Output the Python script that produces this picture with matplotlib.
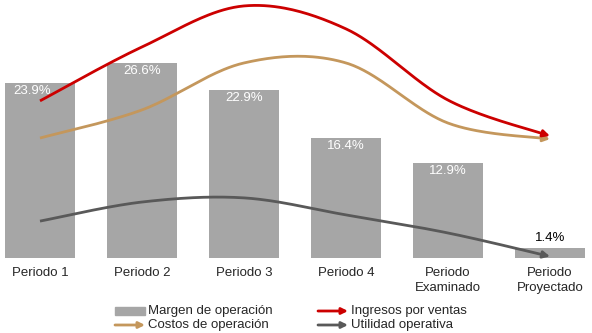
import numpy as np
import matplotlib
matplotlib.use("Agg")
import matplotlib.pyplot as plt
from matplotlib.patches import Rectangle, FancyArrowPatch

plt.rcParams['font.family'] = ['Liberation Sans', 'DejaVu Sans']

# ---- data ----
categories = ["Periodo 1", "Periodo 2", "Periodo 3", "Periodo 4",
              "Periodo\nExaminado", "Periodo\nProyectado"]
margen = [23.9, 26.6, 22.9, 16.4, 12.9, 1.4]          # %
ingresos = [60.9, 81.8, 97.7, 88.8, 61.2, 47.3]        # index (hidden axis)
costos = [46.5, 57.4, 75.6, 75.6, 52.3, 46.1]          # index (hidden axis)
utilidad = [14.3, 21.7, 23.3, 16.7, 9.7, 0.6]          # index (hidden axis)
legend_labels = ["Margen de operación", "Ingresos por ventas",
                 "Costos de operación", "Utilidad operativa"]

BAR_C = "#A6A6A6"
RED = "#CC0000"
TAN = "#C4975C"
DGRAY = "#595959"
TXT = "#262626"

W, H = 592, 333
fig = plt.figure(figsize=(W / 100, H / 100), dpi=100)

# axes: x center 0 at px 40, 102 px per category; y=0 at px 258
x0_px, step = 40, 102
bottom_px = 258
ax = fig.add_axes([0, (H - bottom_px) / H, 1, bottom_px / H])
ax.set_xlim(-x0_px / step, (W - x0_px) / step)
ax.set_ylim(0, bottom_px / 7.33)
x = np.arange(len(categories))
bars = ax.bar(x, margen, width=0.686, color=BAR_C, zorder=1)
for i, (xi, v) in enumerate(zip(x, margen)):
    dx = -8 if i == 0 else 0
    if v > 5:
        ax.annotate(f"{v:.1f}%", (xi, v), xytext=(dx, -8), textcoords="offset pixels",
                    ha="center", va="center", color="white", fontsize=9.5, zorder=5)
    else:
        ax.annotate(f"{v:.1f}%", (xi, v), xytext=(dx, 10), textcoords="offset pixels",
                    ha="center", va="center", color="black", fontsize=9.5, zorder=5)

ax.set_xticks(x)
ax.set_xticklabels(categories, fontsize=9.5, color=TXT, linespacing=1.35)
ax.tick_params(axis="x", length=0, pad=6.5)
ax.set_yticks([])
for s in ax.spines.values():
    s.set_visible(False)
ax.patch.set_alpha(0)

ax2 = ax.twinx()
ax2.set_ylim(0, 100)
ax2.set_yticks([])
for s in ax2.spines.values():
    s.set_visible(False)


def smooth(xs, ys, n=40):
    xs = np.asarray(xs, float)
    ys = np.asarray(ys, float)
    P = np.column_stack([xs, ys])
    Pext = np.vstack([P[0], P, P[-1]])
    out = []
    for i in range(len(P) - 1):
        p0, p1, p2, p3 = Pext[i], Pext[i + 1], Pext[i + 2], Pext[i + 3]
        c1 = p1 + (p2 - p0) / 6
        c2 = p2 - (p3 - p1) / 6
        t = np.linspace(0, 1, n, endpoint=(i == len(P) - 2))[:, None]
        seg = ((1 - t) ** 3) * p1 + 3 * ((1 - t) ** 2) * t * c1 + 3 * (1 - t) * t ** 2 * c2 + t ** 3 * p2
        out.append(seg)
    return np.vstack(out)


for series, col in [(utilidad, DGRAY), (costos, TAN), (ingresos, RED)]:
    pts = smooth(x, series)
    ax2.plot(pts[:-3, 0], pts[:-3, 1], color=col, lw=2, solid_capstyle="butt", zorder=3)
    ax2.annotate("", xy=(pts[-1, 0], pts[-1, 1]), xytext=(pts[-6, 0], pts[-6, 1]),
                 arrowprops=dict(arrowstyle="-|>", color=col, lw=2,
                                 mutation_scale=10, shrinkA=0, shrinkB=0), zorder=3)

# ---- legend (drawn in figure pixels) ----
def fx(px):
    return px / W


def fy(py):
    return 1 - py / H


rows = [311, 325]
cols = [(115, 145), (318, 348)]
kinds = ["bar", RED, TAN, DGRAY]
for k, (lab, kind) in enumerate(zip(legend_labels, kinds)):
    r, c = divmod(k, 2)
    yv = rows[r]
    xa, xb = cols[c]
    if kind == "bar":
        fig.patches.append(Rectangle((fx(xa), fy(yv + 4)), fx(xb - xa), (8 / H),
                                     transform=fig.transFigure, color=BAR_C))
    else:
        fig.patches.append(FancyArrowPatch((fx(xa), fy(yv)), (fx(xb), fy(yv)),
                                           transform=fig.transFigure, arrowstyle="-|>",
                                           color=kind, lw=2, mutation_scale=9,
                                           shrinkA=0, shrinkB=0))
    fig.text(fx(xb + 3), fy(yv), lab, ha="left", va="center", fontsize=9.5, color=TXT)

fig.savefig("out.png", dpi=100)
